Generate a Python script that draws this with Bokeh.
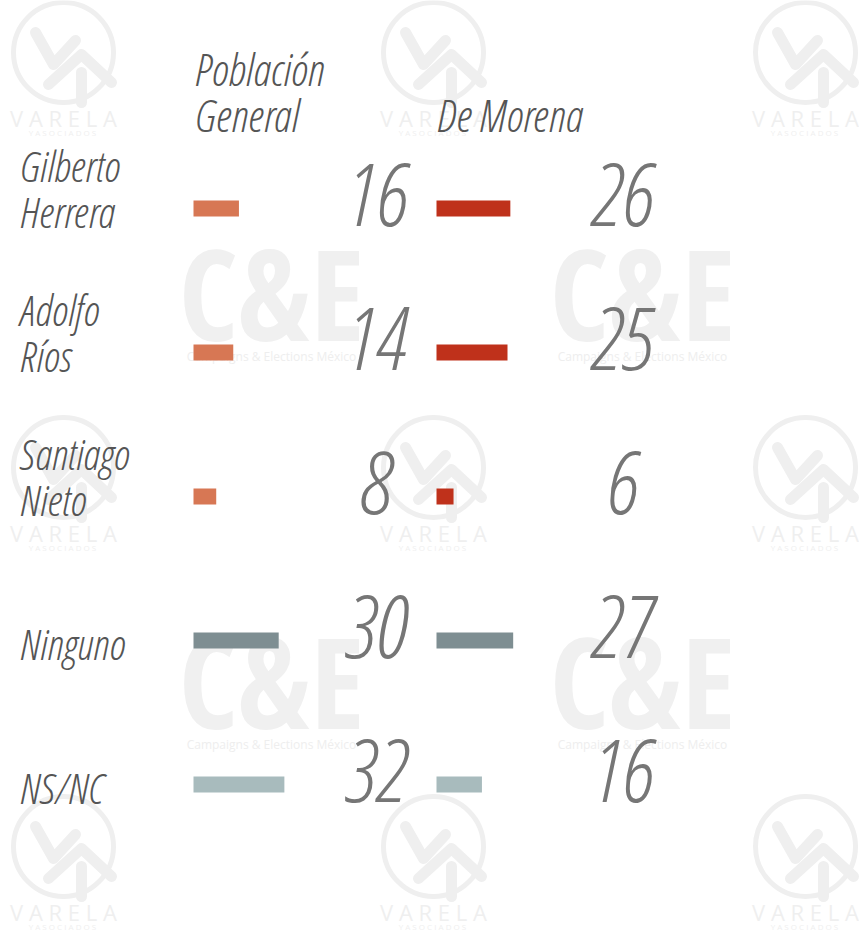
from bokeh.plotting import figure
from bokeh.models import Range1d
from bokeh.embed import file_html
from bokeh.resources import INLINE
from bokeh.core.properties import value

# ---------------- data ----------------
candidates = ["Gilberto\nHerrera", "Adolfo\nRíos", "Santiago\nNieto", "Ninguno", "NS/NC"]
poblacion_general = [16, 14, 8, 30, 32]
de_morena = [26, 25, 6, 27, 16]
colors_general = ["#d77754", "#d77754", "#d77754", "#7e8e92", "#a8bbbd"]
colors_morena = ["#bf311b", "#bf311b", "#bf311b", "#7e8e92", "#a8bbbd"]
header_general = ["Población", "General"]
header_morena = "De Morena"

# ---------------- layout ----------------
W, H = 859, 935
K = 2.84          # pixels per percentage point
ROW = 144.0       # pixels per row
ROW0 = 208.0      # y of first row
BASE = 0.385      # baseline correction (fraction of font size)


def px(x):
    return x / K


def py(y):
    return (y - ROW0) / ROW


def fs_off(size):
    return BASE * size / ROW


p = figure(width=W, height=H, output_backend="svg", toolbar_location=None,
           x_range=Range1d(0, W / K), y_range=Range1d(start=(H - ROW0) / ROW, end=-ROW0 / ROW),
           x_axis_location=None, y_axis_location=None, min_border=0,
           outline_line_color=None, background_fill_color="white", border_fill_color="white")
p.grid.visible = False

WM = "#efefef"
# ---- watermarks: VARELA logos ----
logo_centers = [(63, 52), (433, 52), (805, 52), (63, 467), (433, 467), (805, 467), (63, 846), (433, 846), (805, 846)]
strokes = [[(-28, -20), (-10, 12), (12, -12)],
           [(-15, 32), (18, 2), (48, 30)],
           [(18, 20), (18, 50)]]
for cx, cy in logo_centers:
    p.scatter(x=[px(cx)], y=[py(cy)], size=100, marker="circle", fill_color=None,
              line_color=WM, line_width=5)
    p.multi_line(xs=[[px(cx + a) for a, b in s] for s in strokes],
                 ys=[[py(cy + b) for a, b in s] for s in strokes],
                 line_color=WM, line_width=11, line_cap="round", line_join="round")
    p.text(x=[px(cx)], y=[py(cy + 74) - fs_off(22)], text=["V A R E L A"], text_font=value("Open Sans"),
           text_font_size="22px", text_color=WM, text_align="center", text_baseline="alphabetic")
    p.text(x=[px(cx)], y=[py(cy + 83) - fs_off(8)], text=["Y  A S O C I A D O S"], text_font=value("Open Sans"),
           text_font_size="8px", text_color=WM, text_align="center", text_baseline="alphabetic")

# ---- watermarks: C&E ----
for cx, cy in [(271, 295), (642, 295), (271, 683), (642, 683)]:
    p.text(x=[px(cx)], y=[py(cy + 45) - fs_off(126)], text=["C&E"], text_font=value("Open Sans Condensed"),
           text_font_size="126px", text_color="#f0f0f0", text_align="center", text_baseline="alphabetic")
    p.text(x=[px(cx)], y=[py(cy + 66) - fs_off(12)], text=["Campaigns & Elections México"],
           text_font=value("Open Sans"), text_font_size="12px", text_color="#eeeeee",
           text_align="center", text_baseline="alphabetic")

rows = list(range(len(candidates)))

# ---- bars ----
L1, L2 = px(193), px(436)
p.hbar(y=rows, left=L1, right=[L1 + v for v in poblacion_general], height=16 / ROW,
       fill_color=colors_general, line_color=None)
p.hbar(y=rows, left=L2, right=[L2 + v for v in de_morena], height=16 / ROW,
       fill_color=colors_morena, line_color=None)

# ---- values ----
NUM_FONT = value("Open Sans Condensed Light")
NUM_SIZE = 86
for cx, vals in [(375, poblacion_general), (621, de_morena)]:
    p.text(x=[px(cx)] * len(rows), y=[r + 20 / ROW - fs_off(NUM_SIZE) for r in rows],
           text=[str(v) for v in vals], text_font=NUM_FONT, text_font_style="italic",
           text_font_size=f"{NUM_SIZE}px", text_color="#767676",
           text_align="center", text_baseline="alphabetic")

# ---- candidate labels ----
LAB_FONT = value("Open Sans Condensed Light")
LAB_SIZE = 42
first_y, first_t, second_y, second_t = [], [], [], []
for r, name in zip(rows, candidates):
    parts = name.split("\n")
    second_y.append(r + 19 / ROW - fs_off(LAB_SIZE)); second_t.append(parts[-1])
    if len(parts) > 1:
        first_y.append(r - 27 / ROW - fs_off(LAB_SIZE)); first_t.append(parts[0])
for ys, ts in [(first_y, first_t), (second_y, second_t)]:
    p.text(x=[px(19)] * len(ys), y=ys, text=ts, text_font=LAB_FONT, text_font_style="italic",
           text_font_size=f"{LAB_SIZE}px", text_color="#555555",
           text_align="left", text_baseline="alphabetic")

# ---- headers ----
HEAD_SIZE = 44
p.text(x=[px(194), px(194)], y=[py(85) - fs_off(HEAD_SIZE), py(131) - fs_off(HEAD_SIZE)],
       text=header_general, text_font=LAB_FONT, text_font_style="italic",
       text_font_size=f"{HEAD_SIZE}px", text_color="#555555",
       text_align="left", text_baseline="alphabetic")
p.text(x=[px(436)], y=[py(131) - fs_off(HEAD_SIZE)], text=[header_morena], text_font=LAB_FONT,
       text_font_style="italic", text_font_size=f"{HEAD_SIZE}px", text_color="#555555",
       text_align="left", text_baseline="alphabetic")

open("out.html", "w").write(file_html(p, INLINE))
